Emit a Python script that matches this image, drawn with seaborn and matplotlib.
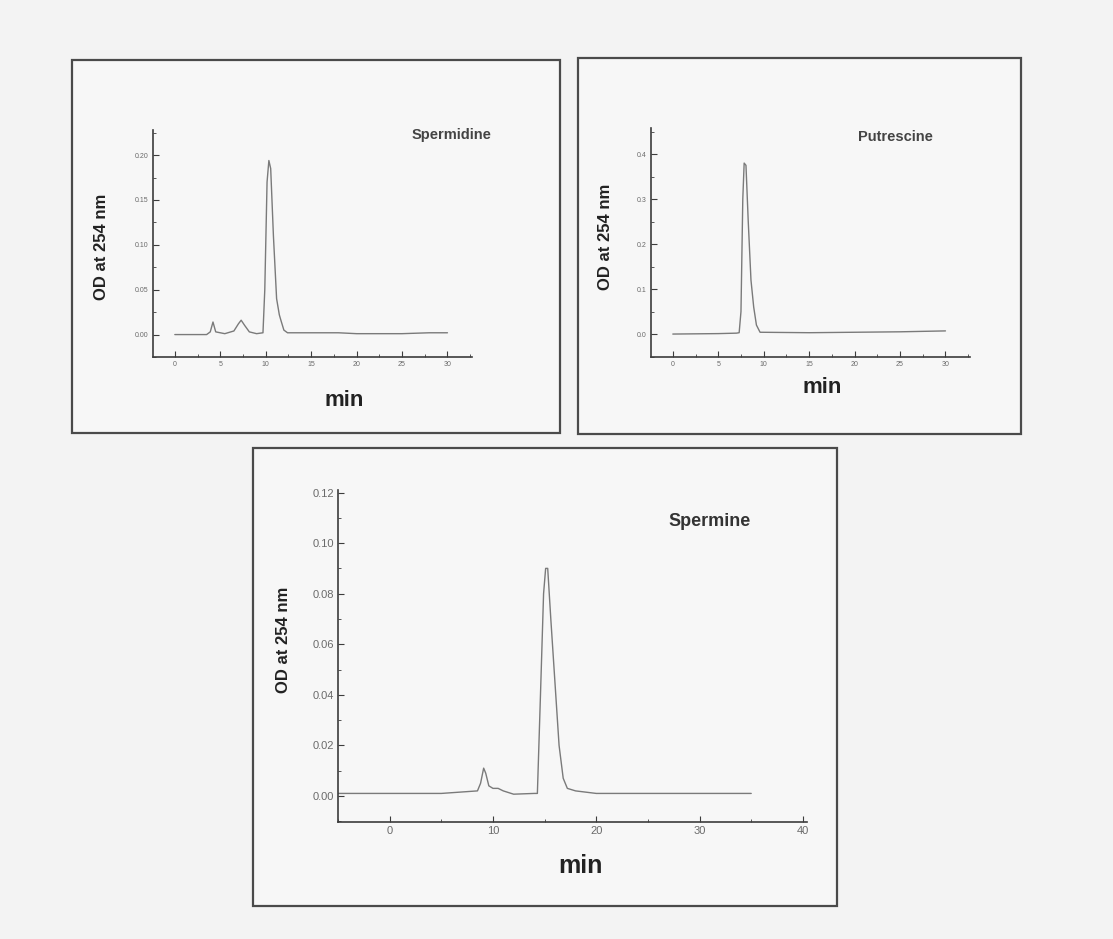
import matplotlib
matplotlib.use("Agg")
import matplotlib.pyplot as plt
from matplotlib.patches import Rectangle
from matplotlib.ticker import MultipleLocator, FormatStrFormatter
import seaborn as sns

# Chromatogram traces: retention time (min) and absorbance (OD at 254 nm)
spermidine_min = [0.0, 3.5, 3.9, 4.2, 4.5, 5.5, 6.5, 7.0, 7.3, 7.7, 8.2, 9.0, 9.7,
                  9.9, 10.15, 10.35, 10.55, 10.85, 11.2, 11.5, 11.7, 12.0, 12.4,
                  15.0, 18.0, 20.0, 25.0, 28.0, 30.0]
spermidine_od = [0.000, 0.000, 0.003, 0.014, 0.003, 0.001, 0.004, 0.012, 0.016, 0.010,
                 0.003, 0.001, 0.002, 0.050, 0.170, 0.194, 0.185, 0.110, 0.040, 0.022,
                 0.015, 0.005, 0.002, 0.002, 0.002, 0.001, 0.001, 0.002, 0.002]

putrescine_min = [0.0, 5.0, 7.0, 7.3, 7.5, 7.7, 7.85, 8.05, 8.3, 8.6, 8.9, 9.2, 9.6,
                  15.0, 20.0, 25.0, 30.0]
putrescine_od = [0.000, 0.001, 0.002, 0.003, 0.050, 0.300, 0.380, 0.375, 0.250, 0.120,
                 0.060, 0.020, 0.004, 0.003, 0.004, 0.005, 0.007]

spermine_min = [-5.0, 5.0, 8.5, 8.8, 9.1, 9.3, 9.6, 10.0, 10.5, 11.0, 12.0, 14.0, 14.3,
                14.6, 14.9, 15.1, 15.3, 15.6, 16.0, 16.4, 16.8, 17.2, 18.0,
                19.0, 20.0, 25.0, 35.0]
spermine_od = [0.001, 0.001, 0.002, 0.005, 0.011, 0.009, 0.004, 0.003, 0.003, 0.002,
               0.0007, 0.001, 0.001, 0.040, 0.080, 0.090, 0.090, 0.070, 0.045, 0.020,
               0.007, 0.003, 0.002, 0.0015, 0.001, 0.001, 0.001]

panel_names = ["Spermidine", "Putrescine", "Spermine"]
y_label = "OD at 254 nm"
x_label = "min"

sns.set_theme(style="ticks")
plt.rcParams["font.family"] = ["Liberation Sans", "DejaVu Sans"]

W, H = 1113, 939
BG = "#f3f3f3"
PANEL = "#f7f7f7"
TRACE = "#7a7a7a"
AXIS = "#3c3c3c"
TICKTXT = "#6a6a6a"

fig = plt.figure(figsize=(W / 100, H / 100), dpi=100, facecolor=BG)


def px_rect(left, top, right, bottom):
    return [left / W, 1 - bottom / H, (right - left) / W, (bottom - top) / H]


# Outer frames around each chromatogram
for (l, t, r, b) in [(72, 60, 560, 433), (578, 58, 1021, 434), (253, 448, 837, 906)]:
    fig.add_artist(Rectangle((l / W, 1 - b / H), (r - l) / W, (b - t) / H,
                             transform=fig.transFigure, facecolor=PANEL,
                             edgecolor="#4a4a4a", linewidth=1.6, zorder=0))


def style_axes(ax, xlim, ylim, xmaj, xmin, ymaj, ymin, yfmt, tick_size):
    ax.set_facecolor("none")
    ax.set_xlim(*xlim)
    ax.set_ylim(*ylim)
    ax.xaxis.set_major_locator(MultipleLocator(xmaj))
    ax.xaxis.set_minor_locator(MultipleLocator(xmin))
    ax.yaxis.set_major_locator(MultipleLocator(ymaj))
    ax.yaxis.set_minor_locator(MultipleLocator(ymin))
    ax.yaxis.set_major_formatter(FormatStrFormatter(yfmt))
    ax.xaxis.set_major_formatter(FormatStrFormatter("%d"))
    for s in ["top", "right"]:
        ax.spines[s].set_visible(False)
    for s in ["left", "bottom"]:
        ax.spines[s].set_color(AXIS)
        ax.spines[s].set_linewidth(1.2)
    ax.tick_params(which="major", direction="in", length=4, width=0.8,
                   color=AXIS, labelsize=tick_size, labelcolor=TICKTXT, pad=3)
    ax.tick_params(which="minor", direction="in", length=2, width=0.6, color=AXIS)


# Spermidine
ax1 = fig.add_axes(px_rect(153, 130, 472, 357))
sns.lineplot(x=spermidine_min, y=spermidine_od, ax=ax1, color=TRACE, linewidth=1.0,
             estimator=None, sort=False)
style_axes(ax1, (-2.4, 32.7), (-0.025, 0.228), 5, 2.5, 0.05, 0.025, "%.2f", 5)
ax1.text(0.937, 0.978, panel_names[0], transform=ax1.transAxes, ha="center",
         va="center", fontsize=10.5, fontweight="bold", color="#444444")

# Putrescine
ax2 = fig.add_axes(px_rect(651, 128, 970, 357))
sns.lineplot(x=putrescine_min, y=putrescine_od, ax=ax2, color=TRACE, linewidth=1.0,
             estimator=None, sort=False)
style_axes(ax2, (-2.4, 32.7), (-0.051, 0.458), 5, 2.5, 0.1, 0.05, "%.1f", 5)
ax2.text(0.765, 0.96, panel_names[1], transform=ax2.transAxes, ha="center",
         va="center", fontsize=10.5, fontweight="bold", color="#444444")

# Spermine
ax3 = fig.add_axes(px_rect(338, 490, 807, 822))
sns.lineplot(x=spermine_min, y=spermine_od, ax=ax3, color=TRACE, linewidth=1.0,
             estimator=None, sort=False)
style_axes(ax3, (-5, 40.4), (-0.0103, 0.121), 10, 5, 0.02, 0.01, "%.2f", 8)
ax3.text(0.793, 0.904, panel_names[2], transform=ax3.transAxes, ha="center",
         va="center", fontsize=13, fontweight="bold", color="#333333")

# Axis titles
for ax, ylc, xlc, xsize in [(ax1, (-0.16, 0.485), (0.60, -0.19), 16),
                            (ax2, (-0.144, 0.524), (0.536, -0.135), 16),
                            (ax3, (-0.117, 0.548), (0.516, -0.133), 18)]:
    ax.set_ylabel(y_label, fontsize=12, fontweight="bold", color="#222222")
    ax.set_xlabel(x_label, fontsize=xsize, fontweight="bold", color="#222222")
    ax.yaxis.set_label_coords(*ylc)
    ax.xaxis.set_label_coords(*xlc)
    ax.yaxis.label.set_va("center")
    ax.xaxis.label.set_va("center")

fig.savefig("out.png", dpi=100, facecolor=BG)
